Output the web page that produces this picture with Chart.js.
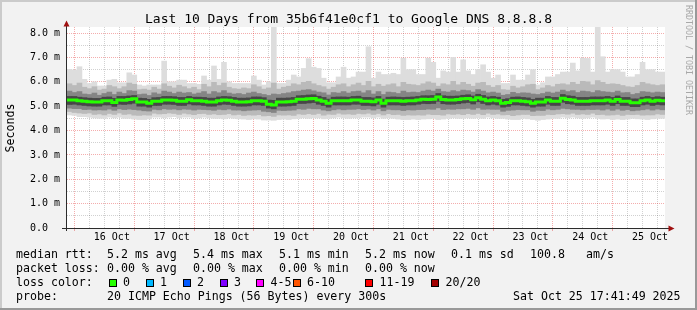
<!DOCTYPE html>
<html>
<head>
<meta charset="utf-8">
<script src="https://cdn.jsdelivr.net/npm/chart.js@4.4.1/dist/chart.umd.min.js"></script>
<style>
html,body{margin:0;padding:0;background:#f2f2f2;overflow:hidden;}
#wrap{position:relative;width:697px;height:310px;background:#f2f2f2;font-family:"DejaVu Sans Mono",monospace;color:#000;overflow:hidden;}
#c{position:absolute;left:0;top:0;}
.t{position:absolute;white-space:pre;}
.lg{font-size:11.6px;line-height:14px;}
.box{position:absolute;width:6px;height:6px;border:1px solid #000;}
</style>
</head>
<body>
<div id="wrap">
<canvas id="c" width="697" height="310"></canvas>
<div class="t" id="title" style="left:0;width:697px;text-align:center;top:11.5px;font-size:13px;line-height:13px;">Last 10 Days from 35b6f41e0cf1 to Google DNS 8.8.8.8</div>
<div class="t" id="ylab" style="left:-20px;top:122px;width:60px;height:12px;text-align:center;font-size:11.6px;line-height:12px;transform:rotate(-90deg);">Seconds</div>
<div class="t" id="wm" style="left:684px;top:5px;font-size:8.3px;line-height:9px;writing-mode:vertical-rl;color:#a8a8a8;">RRDTOOL / TOBI OETIKER</div>
<div id="legend"></div>
</div>
<script>
// ---- data (values in ms, one bucket = 2 hours, starting Oct 15 18:00) ----
const bucketStartHours = Array.from({length:120}, (_, i) => i * 2);
const dayLabels = ['16 Oct','17 Oct','18 Oct','19 Oct','20 Oct','21 Oct','22 Oct','23 Oct','24 Oct','25 Oct'];
const yTickLabels = ['0.0  ','1.0 m','2.0 m','3.0 m','4.0 m','5.0 m','6.0 m','7.0 m','8.0 m'];

const medianRtt = [
 5.25,5.25,5.22,5.20,5.18,5.17,5.17,5.22,5.22,5.15,
 5.25,5.24,5.27,5.30,5.17,5.17,5.12,5.20,5.20,5.25,
 5.25,5.24,5.20,5.20,5.26,5.22,5.22,5.20,5.17,5.17,
 5.22,5.25,5.24,5.20,5.17,5.17,5.18,5.22,5.22,5.20,
 5.08,5.05,5.17,5.17,5.18,5.20,5.28,5.28,5.30,5.32,
 5.25,5.20,5.12,5.22,5.22,5.22,5.22,5.25,5.25,5.20,
 5.20,5.18,5.25,5.12,5.22,5.22,5.22,5.20,5.22,5.22,
 5.25,5.28,5.27,5.28,5.38,5.27,5.25,5.25,5.27,5.30,
 5.32,5.26,5.35,5.28,5.22,5.25,5.22,5.12,5.15,5.22,
 5.22,5.20,5.18,5.12,5.17,5.17,5.25,5.20,5.20,5.33,
 5.27,5.25,5.20,5.20,5.20,5.22,5.22,5.22,5.25,5.20,
 5.27,5.20,5.20,5.14,5.14,5.22,5.25,5.20,5.24,5.22];

const pingMax = [
 6.51,6.48,6.62,6.10,5.93,6.00,5.83,5.83,6.07,6.10,
 5.96,5.96,6.37,6.28,5.87,5.83,5.87,5.87,5.87,6.85,
 6.00,6.00,6.07,6.07,5.93,5.93,5.90,6.24,6.07,6.65,
 6.10,6.80,6.00,5.93,5.93,5.93,5.93,6.24,6.07,5.87,
 6.00,8.25,5.93,5.93,6.07,6.28,6.20,6.55,6.95,6.60,
 6.55,6.15,5.96,5.96,6.20,6.60,6.15,6.20,6.40,6.40,
 7.44,6.15,6.40,6.30,6.30,6.35,6.30,6.97,6.50,6.50,
 6.30,6.30,6.97,6.80,6.15,6.45,6.40,7.00,6.40,6.90,
 6.45,6.30,6.50,6.70,6.40,6.15,6.28,5.93,5.93,6.28,
 6.07,6.07,6.28,6.50,5.87,5.96,6.20,6.20,6.30,6.40,
 6.40,6.77,6.45,6.97,6.96,6.40,8.25,7.03,6.40,6.50,
 6.50,6.40,6.20,6.20,6.30,6.80,6.50,6.50,6.40,6.40];

const pingMin = [
 4.64,4.62,4.57,4.57,4.55,4.52,4.50,4.50,4.55,4.52,
 4.55,4.50,4.50,4.47,4.45,4.45,4.48,4.55,4.55,4.52,
 4.55,4.57,4.52,4.55,4.55,4.50,4.52,4.55,4.52,4.50,
 4.50,4.48,4.52,4.50,4.48,4.47,4.45,4.48,4.47,4.43,
 4.43,4.42,4.45,4.47,4.45,4.48,4.50,4.52,4.50,4.52,
 4.52,4.48,4.50,4.52,4.55,4.52,4.50,4.52,4.52,4.55,
 4.55,4.52,4.55,4.50,4.52,4.50,4.47,4.45,4.45,4.47,
 4.45,4.47,4.48,4.50,4.45,4.47,4.50,4.52,4.50,4.50,
 4.52,4.50,4.52,4.50,4.55,4.52,4.50,4.50,4.47,4.45,
 4.45,4.50,4.48,4.45,4.42,4.45,4.47,4.50,4.50,4.55,
 4.52,4.55,4.52,4.50,4.52,4.55,4.50,4.47,4.48,4.45,
 4.47,4.45,4.47,4.50,4.48,4.47,4.45,4.48,4.50,4.50];

const smokeOuterHi = [
 5.92,5.85,5.95,5.78,5.72,5.80,5.66,5.70,5.85,5.80,
 5.72,5.80,5.95,5.90,5.68,5.70,5.66,5.78,5.70,5.92,
 5.82,5.75,5.86,5.80,5.72,5.78,5.68,5.90,5.80,5.98,
 5.85,5.95,5.78,5.72,5.70,5.75,5.72,5.88,5.80,5.70,
 5.75,5.95,5.70,5.78,5.82,5.92,5.88,5.98,6.02,5.92,
 5.85,5.80,5.70,5.78,5.88,5.92,5.80,5.88,5.95,5.85,
 6.02,5.80,5.90,5.82,5.88,5.92,5.80,5.98,5.90,5.88,
 5.85,5.92,6.00,5.95,5.82,5.92,5.88,6.02,5.88,5.98,
 5.90,5.82,5.95,5.98,5.85,5.78,5.85,5.68,5.66,5.82,
 5.75,5.80,5.88,5.90,5.68,5.75,5.85,5.80,5.90,5.92,
 5.88,5.98,5.90,6.02,6.00,5.88,6.05,5.98,5.90,5.92,
 5.90,5.85,5.80,5.78,5.85,5.98,5.92,5.88,5.85,5.88];

const smokeOuterLo = [
 4.78,4.74,4.72,4.70,4.72,4.66,4.68,4.64,4.70,4.66,
 4.72,4.66,4.68,4.63,4.62,4.64,4.63,4.71,4.68,4.69,
 4.72,4.70,4.66,4.71,4.68,4.65,4.69,4.70,4.66,4.68,
 4.65,4.66,4.69,4.64,4.66,4.62,4.64,4.63,4.65,4.60,
 4.61,4.58,4.64,4.63,4.64,4.62,4.68,4.66,4.69,4.66,
 4.70,4.63,4.67,4.66,4.71,4.67,4.68,4.66,4.70,4.68,
 4.71,4.66,4.70,4.64,4.69,4.65,4.66,4.62,4.64,4.63,
 4.64,4.63,4.67,4.65,4.65,4.63,4.68,4.66,4.68,4.65,
 4.69,4.66,4.70,4.65,4.71,4.66,4.68,4.64,4.65,4.61,
 4.64,4.66,4.66,4.61,4.62,4.62,4.66,4.65,4.68,4.69,
 4.67,4.71,4.66,4.68,4.66,4.71,4.65,4.66,4.63,4.64,
 4.66,4.62,4.66,4.65,4.66,4.63,4.64,4.64,4.68,4.66];

const smokeMidHi = [
 5.62,5.56,5.60,5.50,5.48,5.54,5.45,5.52,5.58,5.48,
 5.58,5.52,5.64,5.62,5.48,5.50,5.44,5.55,5.50,5.62,
 5.58,5.52,5.58,5.54,5.56,5.50,5.54,5.60,5.50,5.60,
 5.55,5.64,5.54,5.50,5.52,5.48,5.54,5.58,5.52,5.48,
 5.44,5.50,5.48,5.52,5.55,5.60,5.62,5.66,5.68,5.63,
 5.58,5.55,5.46,5.56,5.54,5.60,5.54,5.60,5.62,5.55,
 5.64,5.50,5.60,5.48,5.58,5.56,5.52,5.62,5.56,5.58,
 5.56,5.62,5.66,5.62,5.70,5.60,5.58,5.64,5.60,5.66,
 5.64,5.58,5.68,5.62,5.55,5.58,5.54,5.45,5.48,5.57,
 5.52,5.55,5.54,5.50,5.48,5.52,5.58,5.54,5.58,5.66,
 5.60,5.64,5.56,5.62,5.60,5.56,5.64,5.60,5.58,5.56,
 5.62,5.55,5.56,5.48,5.52,5.60,5.58,5.55,5.58,5.56];

const smokeMidLo = [
 4.92,4.90,4.90,4.86,4.87,4.84,4.85,4.84,4.88,4.83,
 4.89,4.86,4.88,4.86,4.84,4.81,4.80,4.87,4.85,4.89,
 4.87,4.88,4.85,4.88,4.87,4.84,4.87,4.86,4.85,4.83,
 4.87,4.85,4.88,4.84,4.84,4.81,4.83,4.84,4.85,4.79,
 4.77,4.74,4.83,4.82,4.83,4.84,4.89,4.87,4.91,4.89,
 4.89,4.84,4.81,4.85,4.88,4.85,4.87,4.87,4.89,4.86,
 4.88,4.84,4.89,4.81,4.87,4.85,4.85,4.82,4.85,4.84,
 4.86,4.86,4.88,4.87,4.93,4.86,4.88,4.87,4.89,4.89,
 4.91,4.87,4.93,4.87,4.88,4.87,4.87,4.79,4.83,4.84,
 4.86,4.85,4.85,4.79,4.83,4.82,4.88,4.85,4.87,4.91,
 4.89,4.87,4.87,4.85,4.87,4.86,4.87,4.84,4.88,4.83,
 4.88,4.83,4.86,4.81,4.83,4.85,4.88,4.84,4.88,4.85];

const smokeCoreHi = [
 5.40,5.40,5.37,5.35,5.33,5.32,5.32,5.37,5.38,5.32,
 5.40,5.40,5.42,5.44,5.33,5.32,5.28,5.35,5.36,5.40,
 5.40,5.39,5.36,5.36,5.40,5.37,5.37,5.36,5.33,5.33,
 5.38,5.40,5.39,5.36,5.33,5.33,5.34,5.38,5.38,5.35,
 5.25,5.24,5.33,5.33,5.34,5.36,5.43,5.44,5.46,5.47,
 5.41,5.36,5.29,5.37,5.38,5.38,5.37,5.40,5.41,5.36,
 5.36,5.34,5.40,5.29,5.37,5.38,5.37,5.36,5.37,5.38,
 5.40,5.43,5.43,5.44,5.52,5.43,5.41,5.41,5.42,5.45,
 5.47,5.42,5.49,5.44,5.38,5.40,5.37,5.28,5.31,5.37,
 5.38,5.36,5.34,5.28,5.33,5.33,5.40,5.36,5.36,5.48,
 5.43,5.41,5.36,5.36,5.36,5.38,5.38,5.38,5.40,5.36,
 5.42,5.36,5.36,5.30,5.30,5.37,5.40,5.36,5.39,5.37];

const smokeCoreLo = [
 5.07,5.08,5.05,5.03,5.01,5.00,5.00,5.05,5.05,4.99,
 5.08,5.07,5.09,5.12,5.00,5.00,4.96,5.03,5.03,5.08,
 5.08,5.07,5.03,5.03,5.09,5.05,5.05,5.03,5.00,5.00,
 5.05,5.08,5.07,5.03,5.00,5.00,5.01,5.05,5.05,5.03,
 4.92,4.89,5.00,5.00,5.01,5.03,5.11,5.11,5.13,5.15,
 5.08,5.03,4.96,5.05,5.05,5.05,5.05,5.08,5.08,5.03,
 5.03,5.01,5.08,4.96,5.05,5.05,5.05,5.03,5.05,5.05,
 5.08,5.11,5.10,5.11,5.20,5.10,5.08,5.08,5.10,5.13,
 5.15,5.09,5.18,5.11,5.05,5.08,5.05,4.96,4.99,5.05,
 5.05,5.03,5.01,4.96,5.00,5.00,5.08,5.03,5.03,5.16,
 5.10,5.08,5.03,5.03,5.03,5.05,5.05,5.05,5.08,5.03,
 5.10,5.03,5.03,4.98,4.98,5.05,5.08,5.03,5.07,5.05];

const lossLabels = ['0','1','2','3','4-5','6-10','11-19','20/20'];
const lossColors = ['#26ff00','#00b8ff','#0059ff','#7e00ff','#ff00ff','#ff5500','#ff0000','#a10000'];
const rttStats = ['5.2 ms avg','5.4 ms max','5.1 ms min','5.2 ms now','0.1 ms sd','100.8','am/s'];
const lossStats = ['0.00 % avg','0.00 % max','0.00 % min','0.00 % now'];

// ---- legend (HTML text) ----
const legend = document.getElementById('legend');
function addText(x, top, txt){
  const d = document.createElement('div');
  d.className = 't lg'; d.style.left = x + 'px'; d.style.top = top + 'px'; d.textContent = txt;
  legend.appendChild(d);
}
const rowTop = [246.5, 260.5, 274.5, 288.5];
addText(16, rowTop[0], 'median rtt:');
[107,193,279,365,451,530,586].forEach((x,i)=>addText(x, rowTop[0], rttStats[i]));
addText(16, rowTop[1], 'packet loss:');
[107,193,279,365].forEach((x,i)=>addText(x, rowTop[1], lossStats[i]));
addText(16, rowTop[2], 'loss color:');
const boxX = [108.5,145.5,182.5,219.5,256,292.5,365,431];
boxX.forEach((x,i)=>{
  const b = document.createElement('div');
  b.className = 'box'; b.style.left = x + 'px'; b.style.top = '278.5px'; b.style.background = lossColors[i];
  legend.appendChild(b);
  addText(x + 14.5, rowTop[2], lossLabels[i]);
});
addText(16, rowTop[3], 'probe:');
addText(107, rowTop[3], '20 ICMP Echo Pings (56 Bytes) every 300s');
addText(513, rowTop[3], 'Sat Oct 25 17:41:49 2025');

// ---- chart ----
const bars = (lo, hi) => lo.map((v, i) => ({x: bucketStartHours[i] + 1, y: [v, hi[i]]}));
const medianPts = medianRtt.map((v, i) => ({x: bucketStartHours[i], y: v}));
medianPts.push({x: bucketStartHours[bucketStartHours.length - 1] + 2, y: medianRtt[medianRtt.length - 1]});

const barBase = {type:'bar', grouped:false, barPercentage:1, categoryPercentage:1, borderWidth:0};
const MAJOR = 'rgba(220,0,0,0.32)';
const MINOR = 'rgba(0,0,0,0.18)';

const plotBg = {
  id:'plotBg',
  beforeDraw(chart){
    const {ctx, chartArea:a} = chart;
    ctx.save(); ctx.fillStyle = '#ffffff';
    ctx.fillRect(a.left, a.top, a.right - a.left, a.bottom - a.top);
    ctx.restore();
  },
  afterDraw(chart){
    const {ctx, chartArea:a} = chart;
    ctx.save();
    ctx.fillStyle = '#cbcbcb'; ctx.fillRect(0,0,697,2); ctx.fillRect(0,0,2,310);
    ctx.fillStyle = '#999999'; ctx.fillRect(0,308,697,2); ctx.fillRect(695,0,2,310);
    ctx.strokeStyle = '#2c2c2c'; ctx.lineWidth = 1;
    ctx.beginPath();
    ctx.moveTo(a.left - 0.5, a.bottom + 3); ctx.lineTo(a.left - 0.5, a.top - 4);
    ctx.moveTo(a.left - 5, a.bottom + 0.5); ctx.lineTo(a.right + 5, a.bottom + 0.5);
    ctx.stroke();
    ctx.fillStyle = '#a01010';
    ctx.beginPath();
    ctx.moveTo(a.left - 3.5, a.top - 0.5); ctx.lineTo(a.left + 2.5, a.top - 0.5); ctx.lineTo(a.left - 0.5, a.top - 6.5); ctx.closePath(); ctx.fill();
    ctx.beginPath();
    ctx.moveTo(a.right + 3.5, a.bottom - 2.5); ctx.lineTo(a.right + 3.5, a.bottom + 3.5); ctx.lineTo(a.right + 9.5, a.bottom + 0.5); ctx.closePath(); ctx.fill();
    ctx.restore();
  }
};

new Chart(document.getElementById('c'), {
  data: {
    datasets: [
      {type:'line', data: medianPts, borderColor:'#26ff00', borderWidth:3, stepped:'before', pointRadius:0, fill:false, order:0, borderCapStyle:'butt'},
      Object.assign({data: bars(smokeCoreLo, smokeCoreHi), backgroundColor:'#474747', order:1}, barBase),
      Object.assign({data: bars(smokeMidLo, smokeMidHi), backgroundColor:'#858585', order:2}, barBase),
      Object.assign({data: bars(smokeOuterLo, smokeOuterHi), backgroundColor:'#bababa', order:3}, barBase),
      Object.assign({data: bars(pingMin, pingMax), backgroundColor:'#dddddd', order:4}, barBase)
    ]
  },
  options: {
    responsive:false, animation:false, devicePixelRatio:1,
    layout:{padding:{left:0, top:27, right:32, bottom:0}},
    plugins:{legend:{display:false}, tooltip:{enabled:false}, title:{display:false}},
    scales: {
      x: {
        type:'linear', min:0, max:240, offset:false, z:1,
        ticks:{stepSize:6, maxTicksLimit:1000, autoSkip:false, maxRotation:0, minRotation:0, includeBounds:false,
          color:'#000', padding:0, font:{family:'DejaVu Sans Mono', size:10},
          callback:(v) => (v % 24 === 18) ? dayLabels[(v - 18) / 24] : ''},
        grid:{lineWidth:1, tickLength:3,
          color:(c) => (c.tick && c.tick.value % 24 === 6) ? MAJOR : MINOR,
          tickColor:(c) => (c.tick && c.tick.value % 24 === 6) ? MAJOR : 'rgba(0,0,0,0)'},
        border:{display:false, dash:[1,1]},
        afterFit:(s) => { s.height = 82; }
      },
      y: {
        type:'linear', min:0, max:8.25, z:1,
        ticks:{stepSize:0.5, maxTicksLimit:1000, autoSkip:false, includeBounds:false,
          color:'#000', padding:4, font:{family:'DejaVu Sans Mono', size:10},
          callback:(v) => Number.isInteger(v) ? yTickLabels[v] : ''},
        grid:{lineWidth:1, tickLength:3,
          color:(c) => !c.tick ? 'rgba(0,0,0,0)' : (Number.isInteger(c.tick.value) ? MAJOR : MINOR),
          tickColor:'rgba(0,0,0,0)'},
        border:{display:false, dash:[1,1]},
        afterFit:(s) => { s.width = 67; }
      }
    }
  },
  plugins:[plotBg]
});
</script>
</body>
</html>
